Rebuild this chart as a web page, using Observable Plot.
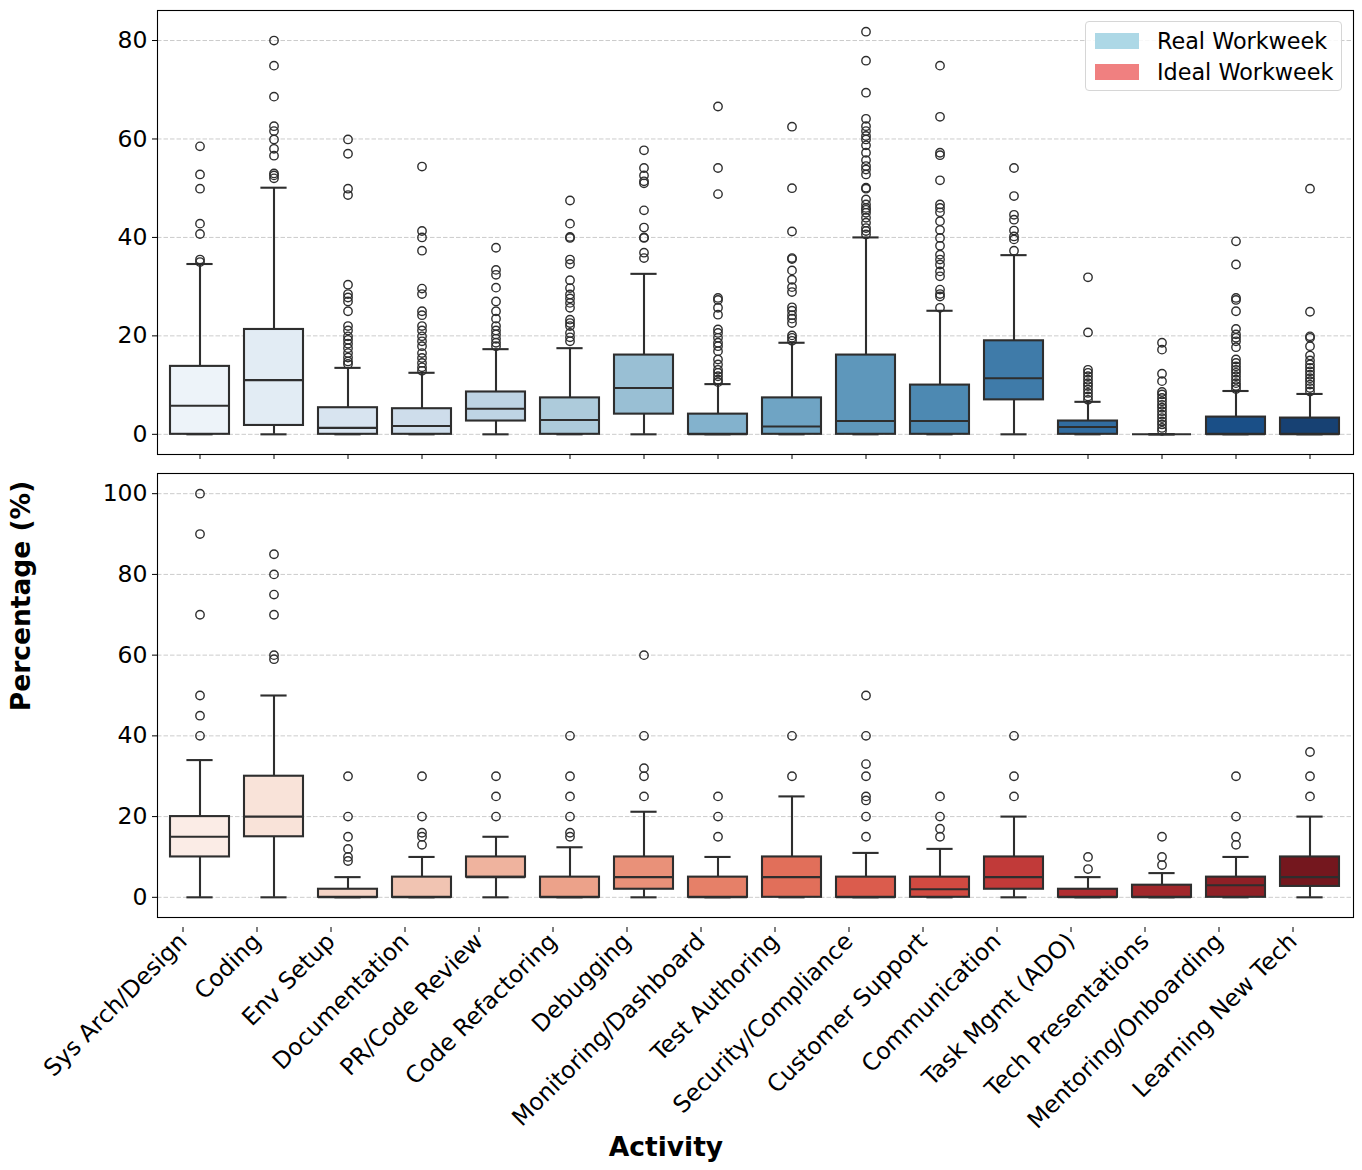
<!DOCTYPE html>
<html>
<head>
<meta charset="utf-8">
<script src="https://cdn.jsdelivr.net/npm/d3@7"></script>
<script src="https://cdn.jsdelivr.net/npm/@observablehq/plot@0.6"></script>
<style>
  html, body { margin: 0; padding: 0; background: #fff; }
  #wrap { position: relative; width: 1362px; height: 1170px; font-family: "DejaVu Sans", sans-serif; }
  #wrap svg { display: block; }
  .lab { position: absolute; font-weight: bold; font-size: 26.5px; color: #000; white-space: nowrap; }
  #legend { position: absolute; left: 1085px; top: 21px; width: 255px; height: 68px; border: 1px solid #d6d6d6; border-radius: 4px; background: rgba(255,255,255,0.85); font-size: 22.3px; }
  .item { position: absolute; left: 9px; height: 26px; line-height: 26px; }
  .sw { position: absolute; left: 0; top: 5px; width: 44px; height: 16px; }
  .it { position: absolute; left: 62px; top: 0; white-space: nowrap; }
</style>
</head>
<body>
<div id="wrap"></div>
<script>
const categories = ["Sys Arch/Design","Coding","Env Setup","Documentation","PR/Code Review","Code Refactoring","Debugging","Monitoring/Dashboard","Test Authoring","Security/Compliance","Customer Support","Communication","Task Mgmt (ADO)","Tech Presentations","Mentoring/Onboarding","Learning New Tech"];

// Real workweek summary
const realQ1     = [0, 1.8, 0, 0, 2.7, 0, 4.1, 0, 0, 0, 0, 7.0, 0, 0, 0, 0];
const realMedian = [5.8, 11.0, 1.3, 1.7, 5.2, 2.9, 9.4, 0, 1.6, 2.7, 2.7, 11.4, 1.5, 0, 0, 0];
const realQ3     = [13.8, 21.3, 5.4, 5.2, 8.6, 7.4, 16.1, 4.1, 7.4, 16.1, 10.0, 19.0, 2.7, 0, 3.5, 3.3];
const realLow    = [0, 0, 0, 0, 0, 0, 0, 0, 0, 0, 0, 0, 0, 0, 0, 0];
const realHigh   = [34.6, 50.1, 13.5, 12.5, 17.3, 17.5, 32.6, 10.2, 18.6, 40.0, 25.1, 36.4, 6.6, 0, 8.8, 8.2];
const realOutliers = [
  [58.5, 52.8, 49.9, 42.8, 40.7, 35.5, 35.0],
  [80, 74.9, 68.6, 62.6, 61.6, 59.9, 58.0, 56.6, 53.0, 52.6, 52.0],
  [59.9, 57.0, 49.9, 48.6, 30.4, 28.5, 27.8, 27.0, 25.0, 22.0, 21.1, 19.9, 19.2, 18.4, 17.5, 16.5, 15.6, 14.8, 14.3],
  [54.4, 41.3, 40.0, 37.3, 29.6, 28.5, 25.0, 24.2, 22.0, 21.1, 19.9, 18.9, 17.9, 16.5, 15.5, 14.5, 13.6, 12.9],
  [37.9, 33.4, 32.4, 29.8, 27.0, 25.0, 23.5, 22.0, 21.1, 20.3, 19.4, 18.6, 17.9],
  [47.5, 42.8, 40.1, 39.9, 35.5, 34.6, 31.3, 29.7, 28.4, 27.6, 26.7, 25.7, 23.3, 22.6, 22.0, 20.6, 19.7, 18.9],
  [57.7, 54.1, 52.6, 51.4, 51.0, 45.5, 42.0, 40.0, 39.9, 36.9, 35.8],
  [66.6, 54.1, 48.8, 27.7, 27.3, 25.7, 24.3, 21.3, 20.6, 19.6, 18.6, 17.9, 16.9, 15.2, 14.2, 13.1, 12.5, 11.8, 11.1, 10.6],
  [62.5, 50.0, 41.2, 35.8, 35.6, 33.3, 31.4, 29.9, 28.9, 25.8, 25.1, 24.2, 23.5, 22.6, 20.1, 19.6, 19.0],
  [81.8, 75.9, 69.4, 64.1, 62.6, 61.6, 60.6, 59.9, 58.7, 57.2, 55.7, 54.5, 53.8, 52.8, 50.1, 49.9, 47.7, 46.7, 46.0, 45.6, 45.0, 44.0, 43.0, 41.9, 41.3, 40.6],
  [74.9, 64.5, 57.2, 56.7, 51.6, 46.7, 46.0, 45.1, 43.3, 41.5, 39.9, 38.3, 36.5, 35.5, 34.5, 33.1, 32.1, 29.4, 28.5, 28.0, 25.7],
  [54.1, 48.4, 44.6, 43.6, 41.4, 40.2, 39.6, 37.3],
  [31.9, 20.7, 13.1, 12.5, 11.8, 11.1, 10.4, 9.8, 9.1, 8.4, 7.7, 7.0],
  [18.6, 17.2, 12.3, 10.8, 8.6, 8.1, 7.4, 6.7, 6.0, 5.4, 4.7, 4.0, 3.3, 2.6, 2.0, 1.3, 0.7],
  [39.2, 34.5, 27.7, 27.3, 25.0, 21.4, 20.3, 19.6, 18.9, 17.7, 15.2, 14.5, 13.8, 13.1, 12.5, 11.8, 11.1, 10.4, 9.8, 9.2],
  [49.9, 24.9, 19.9, 19.6, 17.9, 16.0, 15.0, 14.2, 13.5, 12.8, 12.1, 11.4, 10.8, 10.1, 9.4, 8.7]
];

// Ideal workweek summary
const idealQ1     = [10, 15, 0, 0, 5, 0, 2, 0, 0, 0, 0, 2, 0, 0, 0, 2.7];
const idealMedian = [15, 20, 0, 0, 5, 0, 5, 0, 5, 0, 2, 5, 0, 0, 3, 5];
const idealQ3     = [20, 30, 2, 5, 10, 5, 10, 5, 10, 5, 5, 10, 2, 3, 5, 10];
const idealLow    = [0, 0, 0, 0, 0, 0, 0, 0, 0, 0, 0, 0, 0, 0, 0, 0];
const idealHigh   = [34, 50, 5, 10, 15, 12.4, 21.2, 10, 25, 11, 12, 20, 5, 6, 10, 20];
const idealOutliers = [
  [100, 90, 70, 50, 45, 40],
  [85, 80, 75, 70, 60, 59],
  [30, 20, 15, 12, 10, 9],
  [30, 20, 16, 15, 13],
  [30, 25, 20],
  [40, 30, 25, 20, 16, 15],
  [60, 40, 32, 30, 25],
  [25, 20, 15],
  [40, 30],
  [50, 40, 33, 30, 25, 24, 20, 15],
  [25, 20, 17, 15],
  [40, 30, 25],
  [10, 7],
  [15, 10, 8],
  [30, 20, 15, 13],
  [36, 30, 25]
];

const realTicks = [0, 20, 40, 60, 80];
const idealTicks = [0, 20, 40, 60, 80, 100];
const legendLabels = ["Real Workweek", "Ideal Workweek"];
const legendColors = ["#add8e6", "#f08080"];

const bluesStops = ["#f7fbff","#deebf7","#c6dbef","#9ecae1","#6baed6","#4292c6","#2171b5","#08519c","#08306b"];
const redsStops  = ["#fff5f0","#fee0d2","#fcbba1","#fc9272","#fb6a4a","#ef3b2c","#cb181d","#a50f15","#67000d"];

function palette(stops, n) {
  const interp = d3.piecewise(d3.interpolateRgb, stops);
  return d3.range(n).map(i => {
    const c = d3.hsl(interp((i + 1) / (n + 1)));
    c.s *= 0.75;
    return c.formatHex();
  });
}

const LINE = "#2e2e2e";
const W = 1362;
const TICK_FONT = 23.5;

function build(q1, med, q3, lo, hi, outs, colors) {
  const boxes = categories.map((c, i) => ({cat: c, q1: q1[i], med: med[i], q3: q3[i], lo: lo[i], hi: hi[i], color: colors[i]}));
  const pts = categories.flatMap((c, i) => outs[i].map(v => ({cat: c, v})));
  return {boxes, pts};
}

function panel({data, domain, ticks, height, marginTop, marginBottom, showLabels}) {
  const capInset = 16.4;
  return Plot.plot({
    width: W,
    height,
    marginLeft: 157,
    marginRight: 9,
    marginTop,
    marginBottom,
    style: {fontFamily: "DejaVu Sans, sans-serif", fontSize: TICK_FONT + "px", color: "#000", background: "transparent"},
    x: {domain: categories, paddingInner: 0.2, paddingOuter: 0.1, label: null},
    y: {domain, label: null},
    color: {type: "identity"},
    marks: [
      Plot.gridY(ticks, {stroke: "#cccccc", strokeOpacity: 1, strokeWidth: 1, strokeDasharray: "4.5,2"}),
      Plot.ruleX(data.boxes, {x: "cat", y1: "q3", y2: "hi", stroke: LINE, strokeWidth: 2.1}),
      Plot.ruleX(data.boxes, {x: "cat", y1: "lo", y2: "q1", stroke: LINE, strokeWidth: 2.1}),
      Plot.tickY(data.boxes, {x: "cat", y: "hi", stroke: LINE, strokeWidth: 2.1, insetLeft: capInset, insetRight: capInset}),
      Plot.tickY(data.boxes, {x: "cat", y: "lo", stroke: LINE, strokeWidth: 2.1, insetLeft: capInset, insetRight: capInset}),
      Plot.barY(data.boxes, {x: "cat", y1: "q1", y2: "q3", fill: "color", stroke: LINE, strokeWidth: 2.1}),
      Plot.tickY(data.boxes, {x: "cat", y: "med", stroke: LINE, strokeWidth: 2.1}),
      Plot.dot(data.pts, {x: "cat", y: "v", r: 4.2, stroke: LINE, strokeWidth: 1.4, fill: "none"}),
      Plot.axisY({ticks, tickSize: 5, tickPadding: 5, fontSize: TICK_FONT, label: null, stroke: "#000", fill: "#000"}),
      showLabels
        ? Plot.axisX({tickSize: 5, tickPadding: 5, tickRotate: -45, fontSize: TICK_FONT, dx: -17, dy: 10, label: null, stroke: "#000", fill: "#000"})
        : Plot.axisX({tickSize: 5, tickFormat: () => "", label: null, stroke: "#000"}),
      Plot.frame({stroke: "#000", strokeWidth: 1.1})
    ]
  });
}

const realData = build(realQ1, realMedian, realQ3, realLow, realHigh, realOutliers, palette(bluesStops, categories.length));
const idealData = build(idealQ1, idealMedian, idealQ3, idealLow, idealHigh, idealOutliers, palette(redsStops, categories.length));

const wrap = document.getElementById("wrap");

const topChart = panel({data: realData, domain: [-4.1, 86.1], ticks: realTicks, height: 464, marginTop: 10, marginBottom: 10, showLabels: false});
const bottomChart = panel({data: idealData, domain: [-5, 105], ticks: idealTicks, height: 706, marginTop: 9, marginBottom: 253, showLabels: true});
wrap.appendChild(topChart);
wrap.appendChild(bottomChart);

// legend
const legend = document.createElement("div");
legend.id = "legend";
legendLabels.forEach((t, i) => {
  const item = document.createElement("div");
  item.className = "item";
  item.style.top = (6 + i * 31) + "px";
  const sw = document.createElement("div");
  sw.className = "sw";
  sw.style.background = legendColors[i];
  const tx = document.createElement("div");
  tx.className = "it";
  tx.textContent = t;
  item.appendChild(sw);
  item.appendChild(tx);
  legend.appendChild(item);
});
wrap.appendChild(legend);

// axis labels
const xl = document.createElement("div");
xl.className = "lab";
xl.textContent = "Activity";
xl.style.left = "666px";
xl.style.top = "1146px";
xl.style.transform = "translate(-50%, -50%)";
wrap.appendChild(xl);

const yl = document.createElement("div");
yl.className = "lab";
yl.textContent = "Percentage (%)";
yl.style.left = "20px";
yl.style.top = "596px";
yl.style.transform = "translate(-50%, -50%) rotate(-90deg)";
wrap.appendChild(yl);
</script>
</body>
</html>
